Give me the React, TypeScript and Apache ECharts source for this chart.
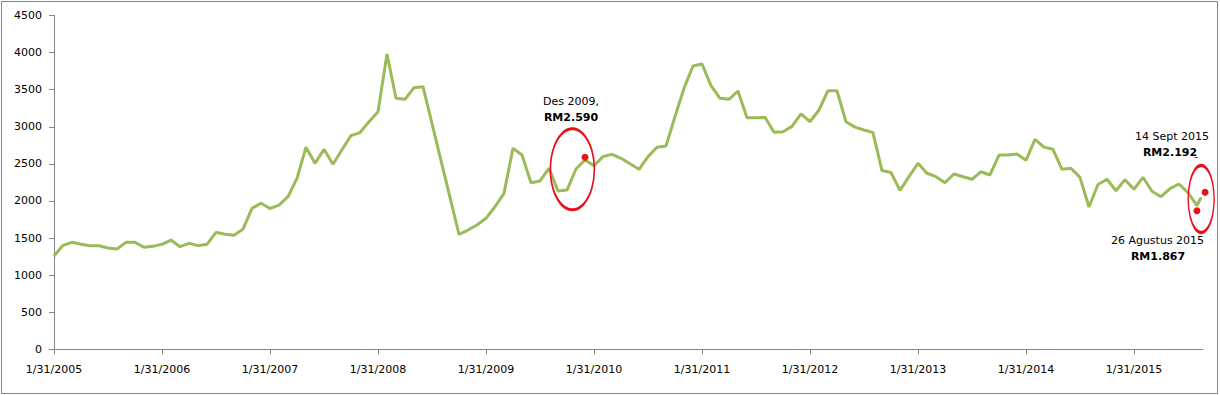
import React, { useEffect, useRef } from "react";
import * as echarts from "echarts";

// Monthly (month-end) prices; the last entry is 14 Sept 2015
const dates = [
  "2005-01","2005-02","2005-03","2005-04","2005-05","2005-06","2005-07","2005-08","2005-09","2005-10","2005-11","2005-12",
  "2006-01","2006-02","2006-03","2006-04","2006-05","2006-06","2006-07","2006-08","2006-09","2006-10","2006-11","2006-12",
  "2007-01","2007-02","2007-03","2007-04","2007-05","2007-06","2007-07","2007-08","2007-09","2007-10","2007-11","2007-12",
  "2008-01","2008-02","2008-03","2008-04","2008-05","2008-06","2008-10","2008-11","2008-12",
  "2009-01","2009-02","2009-03","2009-04","2009-05","2009-06","2009-07","2009-08","2009-09","2009-10","2009-11","2009-12",
  "2010-01","2010-02","2010-03","2010-04","2010-06","2010-07","2010-08","2010-09","2010-10","2010-11","2010-12",
  "2011-01","2011-02","2011-03","2011-04","2011-05","2011-06","2011-07","2011-08","2011-09","2011-10","2011-11","2011-12",
  "2012-01","2012-02","2012-03","2012-04","2012-05","2012-06","2012-07","2012-08","2012-09","2012-10","2012-11","2012-12",
  "2013-01","2013-02","2013-03","2013-04","2013-05","2013-06","2013-07","2013-08","2013-09","2013-10","2013-11","2013-12",
  "2014-01","2014-02","2014-03","2014-04","2014-05","2014-06","2014-07","2014-08","2014-09","2014-10","2014-11","2014-12",
  "2015-01","2015-02","2015-03","2015-04","2015-05","2015-06","2015-07","2015-08","2015-09-14",
];

const prices = [
  1258, 1402, 1442, 1415, 1397, 1397, 1366, 1352, 1442, 1442, 1375, 1388,
  1415, 1473, 1383, 1429, 1397, 1415, 1577, 1550, 1537, 1620, 1900, 1970,
  1898, 1943, 2057, 2305, 2725, 2507, 2696, 2494, 2690, 2880, 2922, 3068,
  3203, 3981, 3384, 3370, 3527, 3540, 1550, 1608, 1676,
  1766, 1922, 2103, 2710, 2619, 2246, 2269, 2440, 2134, 2147, 2431, 2552,
  2475, 2597, 2629, 2575, 2427, 2597, 2723, 2741, 3136, 3518, 3819,
  3846, 3554, 3384, 3370, 3482, 3122, 3122, 3127, 2925, 2933, 3005, 3175,
  3068, 3226, 3486, 3486, 3068, 2995, 2956, 2922, 2410, 2383, 2142, 2327,
  2507, 2373, 2327, 2246, 2363, 2327, 2292, 2394, 2350, 2619, 2619, 2633,
  2548, 2831, 2725, 2696, 2427, 2440, 2318, 1918, 2222, 2292, 2138, 2287,
  2157, 2319, 2130, 2057, 2165, 2228, 2113, 1938, 2049,
];

const xTickLabels = [
  "1/31/2005","1/31/2006","1/31/2007","1/31/2008","1/31/2009","1/31/2010",
  "1/31/2011","1/31/2012","1/31/2013","1/31/2014","1/31/2015",
];

// Highlighted points (red dots)
const dotDates = ["2009-12", "2015-08", "2015-09-27"];
const dotValues = [2590, 1867, 2116];

// Red ellipses around the highlighted periods (centre date, centre value)
const ellipseDates = ["2009-11-18", "2015-09-14"];
const ellipseValues = [2427, 2026];

// Month index since Jan 2005 month-end (month-end dates are whole numbers)
function monthIndex(s: string): number {
  const parts = s.split("-").map(Number);
  const y = parts[0];
  const m = parts[1];
  const dim = new Date(y, m, 0).getDate();
  const d = parts.length > 2 ? parts[2] : dim;
  return (y - 2005) * 12 + (m - 1) + (d - dim) / dim;
}
function tickIndex(label: string): number {
  const [m, d, y] = label.split("/").map(Number);
  return monthIndex(`${y}-${String(m).padStart(2, "0")}-${d}`);
}

export default function App() {
  const ref = useRef<HTMLDivElement>(null);

  useEffect(() => {
    document.body.style.margin = "0";
    if (!ref.current) return;
    const chart = echarts.init(ref.current, undefined, { renderer: "svg" });
    const font = "DejaVu Sans";
    const tickVals = xTickLabels.map(tickIndex);
    const labelMap: Record<string, string> = {};
    tickVals.forEach((v, i) => (labelMap[String(v)] = xTickLabels[i]));

    const lineData = dates.map((d, i) => [monthIndex(d), prices[i]]);
    const dotData = dotDates.map((d, i) => [monthIndex(d), dotValues[i]]);
    const ellipseData = ellipseDates.map((d, i) => [monthIndex(d), ellipseValues[i]]);
    const ellipseSizes = [
      [44, 81],
      [26, 67],
    ];

    const text = (t: string, x: number, y: number, bold = false) => ({
      type: "text",
      style: {
        text: t,
        x,
        y,
        textAlign: "center",
        textVerticalAlign: "middle",
        fontFamily: font,
        fontSize: 11,
        fontWeight: bold ? "bold" : "normal",
        fill: "#000",
      },
      z: 100,
    });

    chart.setOption({
      animation: false,
      grid: { left: 54, right: 17, top: 15.5, bottom: 45.7 },
      xAxis: {
        type: "value",
        min: 0,
        max: 127.67,
        interval: 12,
        splitLine: { show: false },
        axisLine: { show: true, lineStyle: { color: "#868686", width: 1 } },
        axisTick: { show: true, length: 5, lineStyle: { color: "#868686" }, customValues: tickVals },
        axisLabel: {
          customValues: tickVals,
          formatter: (v: number) => labelMap[String(v)] ?? "",
          color: "#000",
          fontFamily: font,
          fontSize: 11,
          margin: 15,
        },
      },
      yAxis: {
        type: "value",
        min: 0,
        max: 4500,
        interval: 500,
        splitLine: { show: false },
        axisLine: { show: true, lineStyle: { color: "#868686", width: 1 } },
        axisTick: { show: true, length: 5, lineStyle: { color: "#868686" } },
        axisLabel: {
          color: "#000",
          fontFamily: font,
          fontSize: 11,
          margin: 12,
          formatter: (v: number) => String(v),
        },
      },
      series: [
        {
          type: "line",
          data: lineData,
          showSymbol: false,
          symbol: "none",
          lineStyle: { color: "#9BBB59", width: 3 },
          itemStyle: { color: "#9BBB59" },
          z: 2,
        },
        {
          type: "scatter",
          data: ellipseData.map((p, i) => ({ value: p, symbolSize: ellipseSizes[i] })),
          symbol: "circle",
          clip: false,
          itemStyle: { color: "rgba(0,0,0,0)", borderColor: "#E8101A", borderWidth: 2.2, opacity: 1 },
          z: 3,
        },
        {
          type: "scatter",
          data: dotData,
          symbol: "circle",
          symbolSize: 7,
          clip: false,
          itemStyle: { color: "#E8101A", opacity: 1 },
          z: 4,
        },
      ],
      graphic: [
        {
          type: "rect",
          shape: { x: 1.5, y: 1.5, width: 1216, height: 392 },
          style: { fill: "none", stroke: "#868686", lineWidth: 1 },
          silent: true,
        },
        text("Des 2009,", 571, 101.7),
        text("RM2.590", 571, 117.3, true),
        text("14 Sept 2015", 1172, 136.7),
        text("RM2.192", 1170, 152.7, true),
        {
          type: "line",
          shape: { x1: 1194.5, y1: 157.5, x2: 1198, y2: 157.5 },
          style: { stroke: "#E8101A", lineWidth: 1 },
          z: 100,
        },
        text("26 Agustus 2015", 1157.5, 240),
        text("RM1.867", 1158, 256.7, true),
      ],
    });

    return () => chart.dispose();
  }, []);

  return <div ref={ref} style={{ width: 1220, height: 395 }} />;
}
